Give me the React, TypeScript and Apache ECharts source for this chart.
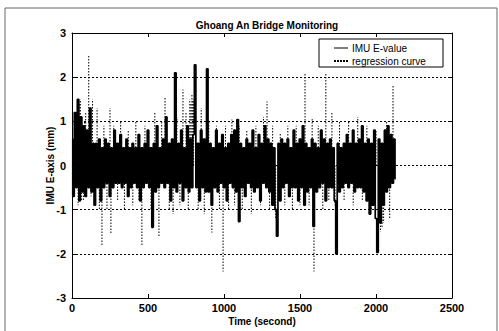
import React, { useEffect, useRef } from "react";
import * as echarts from "echarts";

const TITLE = "Ghoang An Bridge Monitoring";
const X_NAME = "Time (second)";
const Y_NAME = "IMU E-axis (mm)";
const SERIES_NAMES = ["IMU E-value", "regression curve"];

// IMU E-value, sampled every 10 s from t = 0
const STEP = 10;
const imuValues = [
  0.6, -0.7, 1.2, -0.5, 1.5, -0.8, 1.1, -0.6, 0.9, -0.7,
  0.8, -0.5, 1.3, -0.6, 0.5, -0.9, 0.5, -0.5, 0.6, -0.8,
  0.4, -0.5, 0.6, -0.4, 0.5, -0.7, 0.4, -0.5, 0.8, -0.4,
  0.5, -0.4, 0.7, -0.5, 0.4, -0.4, 0.6, -0.7, 0.4, -0.5,
  0.5, -0.4, 0.4, -0.5, 0.7, -0.8, 0.4, -0.5, 0.5, -0.4,
  0.8, -0.5, 0.4, -1.4, 0.5, -0.6, 0.9, -0.5, 0.4, -0.4,
  0.6, -0.5, 1.1, -0.4, 0.5, -0.8, 0.6, -0.5, 2.1, -0.6,
  0.5, -0.4, 0.8, -0.8, 0.4, -0.5, 0.9, -0.6, 0.6, -0.5,
  0.7, 2.28, -0.5, 0.5, -0.8, 0.8, -0.5, 0.6, -0.6, 2.19,
  -0.6, 0.5, -0.9, 0.4, -0.5, 0.8, -0.6, 0.5, -0.4, 0.7,
  -0.5, 0.4, -0.8, 0.5, -0.4, 0.7, -0.5, 0.8, -0.6, 1.04,
  -1.27, 0.5, -0.5, 0.4, -0.7, 0.6, -0.4, 0.5, -0.5, 0.8,
  -0.6, 0.4, -0.5, 0.7, -0.8, 0.5, -0.4, 0.9, -0.5, 0.6,
  -0.6, 0.5, -0.9, 0.4, -1.0, -1.6, 0.5, -0.8, 0.6, -0.5,
  0.5, -0.4, 0.6, -0.7, 0.4, -0.5, 0.8, -0.5, 0.5, -0.8,
  0.6, -0.5, 0.9, -0.9, 0.5, -0.6, 0.4, -0.5, 0.6, -1.38,
  0.5, -0.6, 0.4, -0.5, 0.8, -0.4, 0.6, -0.8, 0.5, -0.5,
  0.6, -0.5, 0.4, -0.8, -2.0, 0.5, -0.6, 0.4, -0.5, 0.5,
  -0.4, 0.7, -0.5, 0.5, -0.4, 0.8, -0.6, 0.5, -0.5, 0.6,
  -0.5, 0.9, -0.6, 0.5, -0.8, 0.6, -1.1, 0.5, -0.9, 0.8,
  -1.2, -1.97, 0.6, -1.3, 0.5, -0.9, 0.8, -0.6, 0.9, -0.5,
  0.7, -0.4, 0.6, -0.3,
];

// regression curve spikes: times and peak values (drawn from the 0 baseline)
const regTimes = [
  20, 30, 40, 48, 55, 62, 75, 82, 90, 110, 118, 125, 135, 150, 165, 180, 197, 210, 230, 250,
  256, 275, 300, 320, 345, 370, 400, 420, 440, 460, 480, 500, 520, 545, 572, 590, 612, 640,
  665, 690, 710, 730, 750, 765, 775, 782, 789, 795, 800, 830, 850, 870, 900, 920, 950, 970,
  994, 1010, 1030, 1052, 1070, 1100, 1120, 1150, 1180, 1210, 1240, 1260, 1283, 1300, 1320,
  1340, 1370, 1400, 1420, 1450, 1475, 1500, 1533, 1560, 1580, 1592, 1620, 1650, 1670, 1690,
  1710, 1730, 1760, 1790, 1820, 1850, 1880, 1910, 1940, 1970, 2000, 2030, 2040, 2050, 2070,
  2090, 2112,
];
const regValues = [
  1.0, 1.2, -0.9, 1.4, 1.5, -0.8, -0.8, 1.0, 1.2, 2.5, 1.1, -0.7, 1.5, -0.9, 1.3, -1.0, -1.8, 0.9, -1.0, 1.3,
  -1.56, 0.9, -0.8, 1.0, -1.0, 0.8, -0.9, 1.0, -0.8, -1.83, 0.9, 0.8, -1.0, 1.2, -1.63, 1.0, 1.53, -1.0,
  -1.1, 1.1, -0.9, 1.72, 1.2, -1.0, 1.5, 1.4, 1.6, 1.5, 1.45, -1.0, 1.3, -1.1, 1.0, -1.52, 0.9, -1.0,
  -2.4, 0.9, -1.0, 1.04, -0.9, 0.9, -1.0, 0.8, -1.1, 0.9, -0.9, 1.1, 1.45, -1.0, 0.9,
  -1.2, 0.75, -0.9, 0.9, -1.0, 0.9, -0.9, 2.08, -0.9, 1.05, -2.4, 0.9, -1.0, 2.08, -0.8,
  1.22, -0.9, 1.0, -0.8, 1.0, -0.9, 1.1, -0.8, 0.9, -1.0, 0.8, -1.5, -1.4, -1.3, 1.0,
  -1.2, 1.83,
];

const X_MIN = 0, X_MAX = 2500, X_INT = 500;
const Y_MIN = -3, Y_MAX = 3, Y_INT = 1;

const FONT = "Liberation Sans, Arial, sans-serif";

export default function App() {
  const ref = useRef<HTMLDivElement>(null);
  useEffect(() => {
    if (!ref.current) return;
    const chart = echarts.init(ref.current, undefined, { renderer: "svg" });
    const imuData = imuValues.map((v, i) => [i * STEP, v]);
    const regData = regTimes.map((t, i) => [t, regValues[i]]);
    const axisLabel = { color: "#000", fontFamily: FONT, fontWeight: "bold" as const, fontSize: 11 };
    const axisLine = { show: true, onZero: false, lineStyle: { color: "#000", width: 1 } };
    const axisTick = { show: true, inside: true, length: 4, lineStyle: { color: "#000" } };
    chart.setOption({
      animation: false,
      backgroundColor: "#fff",
      grid: { left: 72, top: 33, right: 47, bottom: 33, containLabel: false },
      title: {
        text: TITLE,
        left: 262,
        top: 15,
        textAlign: "center",
        textStyle: { fontFamily: FONT, fontWeight: "bold", fontSize: 10, color: "#000" },
      },
      xAxis: [
        {
          type: "value", min: X_MIN, max: X_MAX, interval: X_INT,
          name: X_NAME, nameLocation: "middle", nameGap: 18, nameMoveOverlap: false,
          nameTextStyle: { fontFamily: FONT, fontWeight: "bold", fontSize: 10, color: "#000" },
          axisLine, axisTick,
          axisLabel: { ...axisLabel, margin: 4, formatter: (v: number) => String(v) },
          splitLine: { show: false },
        },
        {
          type: "value", position: "top", min: X_MIN, max: X_MAX, interval: X_INT,
          axisLine, axisTick, axisLabel: { show: false }, splitLine: { show: false },
        },
      ],
      yAxis: [
        {
          type: "value", min: Y_MIN, max: Y_MAX, interval: Y_INT,
          name: Y_NAME, nameLocation: "middle", nameGap: 17, nameMoveOverlap: false,
          nameTextStyle: { fontFamily: FONT, fontWeight: "bold", fontSize: 10, color: "#000" },
          axisLine, axisTick, axisLabel: { ...axisLabel, margin: 6 },
          splitLine: { show: true, lineStyle: { color: "#000", width: 1, type: [2, 2] } },
        },
        {
          type: "value", position: "right", min: Y_MIN, max: Y_MAX, interval: Y_INT,
          axisLine, axisTick, axisLabel: { show: false }, splitLine: { show: false },
        },
      ],
      series: [
        {
          name: SERIES_NAMES[1],
          type: "custom",
          data: regData,
          z: 2,
          renderItem: (_params: any, api: any) => {
            const t = api.value(0);
            const p0 = api.coord([t, 0]);
            const p1 = api.coord([t, api.value(1)]);
            return {
              type: "line",
              shape: { x1: p0[0], y1: p0[1], x2: p1[0], y2: p1[1] },
              style: { stroke: "#000", lineWidth: 1, lineDash: [1.5, 1.5] },
            };
          },
        },
        {
          name: SERIES_NAMES[0], type: "line", step: "middle", data: imuData, showSymbol: false, symbol: "none",
          lineStyle: { color: "#000", width: 1.7 }, z: 3,
        },
      ],
      graphic: [
        { type: "line", shape: { x1: 5, y1: 8, x2: 497, y2: 8 }, style: { stroke: "#666", lineWidth: 1 } },
        { type: "line", shape: { x1: 5, y1: 8, x2: 5, y2: 331 }, style: { stroke: "#666", lineWidth: 1 } },
        { type: "line", shape: { x1: 497, y1: 8, x2: 497, y2: 331 }, style: { stroke: "#666", lineWidth: 1 } },
        {
          type: "rect", shape: { x: 319, y: 39, width: 124, height: 28 },
          style: { fill: "#fff", stroke: "#000", lineWidth: 1 }, z: 100,
        },
        { type: "line", shape: { x1: 334, y1: 48, x2: 348, y2: 48 }, style: { stroke: "#000", lineWidth: 1 }, z: 101 },
        {
          type: "line", shape: { x1: 334, y1: 61, x2: 348, y2: 61 },
          style: { stroke: "#000", lineWidth: 2, lineDash: [2, 1] }, z: 101,
        },
        {
          type: "text", x: 352, y: 48, z: 101,
          style: { text: SERIES_NAMES[0], fontFamily: FONT, fontSize: 10, fill: "#000", verticalAlign: "middle" },
        },
        {
          type: "text", x: 352, y: 61, z: 101,
          style: { text: SERIES_NAMES[1], fontFamily: FONT, fontSize: 10, fill: "#000", verticalAlign: "middle" },
        },
      ],
    });
    return () => chart.dispose();
  }, []);
  return (
    <div
      ref={ref}
      style={{ position: "fixed", left: 0, top: 0, width: 499, height: 331, background: "#fff" }}
    />
  );
}
